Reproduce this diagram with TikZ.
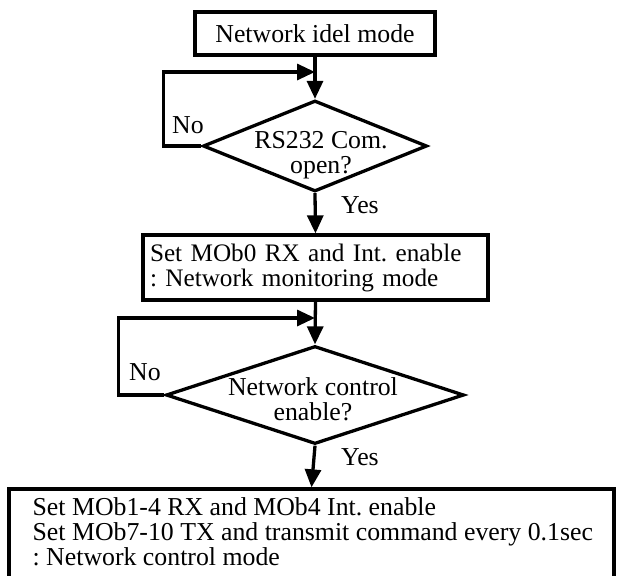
\documentclass[tikz,border=0pt]{standalone}
\usepackage{fontspec}
\setmainfont{Liberation Serif}
\usetikzlibrary{arrows.meta,shapes.geometric}
\begin{document}
\frenchspacing
\begin{tikzpicture}[x=1pt,y=-1pt,line width=3.3pt,
  every node/.style={font=\fontsize{25.8}{25}\selectfont, inner sep=0pt},
  box/.style={draw, rectangle, line width=3.3pt},
  decision/.style={draw, diamond, line width=3.3pt, inner sep=0pt},
  flow/.style={-{Triangle[length=18pt,width=16pt]}, line width=3.3pt, line join=miter}]
\useasboundingbox (0,0) rectangle (619,576);

\node[box, minimum width=240pt, minimum height=43pt] (b1) at (315,33.5) {Network idel mode};

\node[decision, minimum width=224pt, minimum height=91pt] (d1) at (315,146) {};
\node[align=center] (t1) at (321,155) {RS232 Com.\\open?};

\node[box, minimum width=345pt, minimum height=65pt, text width=331pt, align=left, inner xsep=7pt, font=\fontsize{25.2}{25}\selectfont] (b2) at (315.5,267.5) {Set MOb0 RX and Int. enable\\: Network monitoring mode};

\node[decision, minimum width=298pt, minimum height=98pt] (d2) at (315,395) {};
\node[align=center] (t2) at (313,399) {Network control\\enable?};

\node[box, minimum width=605pt, minimum height=111pt] (b3) at (311.5,544.5) {};
\node[anchor=west, align=left] (t3) at (31,532) {Set MOb1-4 RX and MOb4 Int. enable\\Set MOb7-10 TX and transmit command every 0.1sec\\: Network control mode};

\coordinate (j1) at (315,72);
\coordinate (j2) at (315,318);

\draw[flow] (b1.south) -- (d1.north);
\draw[flow] (d1.south) -- (b2.north);
\draw[flow] (b2.south) -- (d2.north);
\draw[flow] (d2.south) -- (b3.north);
\draw[flow] (d1.west) -- ++(-38,0) |- (j1);
\draw[flow] (d2.west) -- ++(-46,0) |- (j2);

\node (no1) at (188,125) {No};
\node (yes1) at (360,205) {Yes};
\node (no2) at (145,372) {No};
\node (yes2) at (360,457.5) {Yes};
\end{tikzpicture}
\end{document}
